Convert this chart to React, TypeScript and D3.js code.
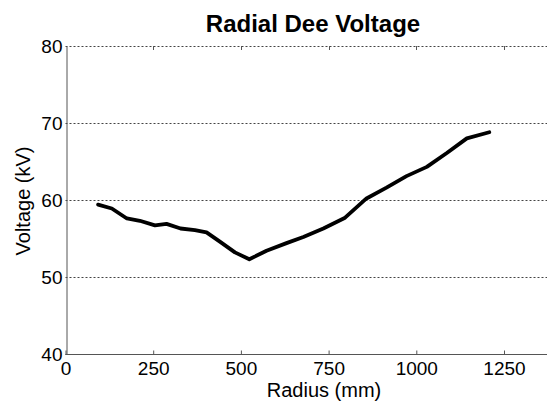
import * as d3 from "d3";
import React, { useEffect, useRef } from "react";

// Radius (mm) and dee voltage (kV).
const radius = [93, 132, 175, 212, 255, 288, 328, 369, 402, 440, 483, 524, 573, 630, 678, 735, 797, 858, 915, 972, 1030, 1087, 1144, 1208];
const voltage = [59.4, 58.9, 57.6, 57.3, 56.7, 56.9, 56.3, 56.1, 55.8, 54.6, 53.2, 52.3, 53.4, 54.4, 55.2, 56.3, 57.7, 60.2, 61.6, 63.1, 64.3, 66.1, 68.0, 68.8];
const xTicks = [0, 250, 500, 750, 1000, 1250];
const yTicks = [40, 50, 60, 70, 80];

const W = 547;
const H = 401;

export default function App() {
  const ref = useRef<SVGSVGElement>(null);

  useEffect(() => {
    const svg = d3.select(ref.current);
    svg.selectAll("*").remove();

    const margin = { top: 46, bottom: 47, left: 65.5 };
    const x = d3.scaleLinear().domain([0, 1400]).range([margin.left, margin.left + 1400 * (438.5 / 1250)]);
    const y = d3.scaleLinear().domain([40, 80]).range([H - margin.bottom, margin.top]);
    const font = "'Liberation Sans', Arial, sans-serif";

    // gridlines (dotted)
    svg.append("g")
      .selectAll("line")
      .data(yTicks)
      .join("line")
      .attr("x1", x(0))
      .attr("x2", W)
      .attr("y1", (d) => Math.round(y(d)) + 0.5)
      .attr("y2", (d) => Math.round(y(d)) + 0.5)
      .attr("stroke", "#444")
      .attr("stroke-width", 1)
      .attr("stroke-dasharray", "2,2");

    // bottom axis, ticks inside
    const xAxis = d3.axisBottom(x).tickValues(xTicks).tickFormat(d3.format("d")).tickSize(-4).tickSizeOuter(0).tickPadding(7);
    svg.append("g")
      .attr("transform", `translate(0,${Math.round(y(40)) + 0.5})`)
      .call(xAxis)
      .call((g) => g.select(".domain").attr("stroke", "#555").attr("d", `M${x(0)},0H${W}`))
      .call((g) => g.selectAll(".tick line").attr("stroke", "#555"))
      .call((g) => g.selectAll("text").attr("fill", "#000").style("font-size", "19px").style("font-family", font));

    // top ticks (box)
    svg.append("g")
      .selectAll("line")
      .data(xTicks.slice(1))
      .join("line")
      .attr("x1", (d) => Math.round(x(d)) + 0.5)
      .attr("x2", (d) => Math.round(x(d)) + 0.5)
      .attr("y1", Math.round(y(80)))
      .attr("y2", Math.round(y(80)) + 4)
      .attr("stroke", "#555");

    // left axis
    const yAxis = d3.axisLeft(y).tickValues(yTicks).tickSize(0).tickPadding(4);
    svg.append("g")
      .attr("transform", `translate(${Math.round(x(0)) + 0.5},0)`)
      .call(yAxis)
      .call((g) => g.select(".domain").attr("stroke", "#555"))
      .call((g) => g.selectAll("text").attr("fill", "#000").style("font-size", "19px").style("font-family", font));

    // data line
    const line = d3.line<number>()
      .x((_, i) => x(radius[i]))
      .y((d) => y(d));
    svg.append("path")
      .datum(voltage)
      .attr("d", line)
      .attr("fill", "none")
      .attr("stroke", "#000")
      .attr("stroke-width", 3.8)
      .attr("stroke-linejoin", "round")
      .attr("stroke-linecap", "round");

    // title and axis labels
    svg.append("text")
      .attr("x", 313)
      .attr("y", 31.5)
      .attr("text-anchor", "middle")
      .style("font-family", font)
      .style("font-weight", "bold")
      .style("font-size", "24px")
      .text("Radial Dee Voltage");

    svg.append("text")
      .attr("x", 324)
      .attr("y", 397)
      .attr("text-anchor", "middle")
      .style("font-family", font)
      .style("font-size", "20px")
      .text("Radius (mm)");

    svg.append("text")
      .attr("transform", `translate(30,201) rotate(-90)`)
      .attr("text-anchor", "middle")
      .style("font-family", font)
      .style("font-size", "20px")
      .text("Voltage (kV)");
  }, []);

  return (
    <svg ref={ref} width={W} height={H} style={{ position: "absolute", left: 0, top: 0, background: "#fff" }} />
  );
}
